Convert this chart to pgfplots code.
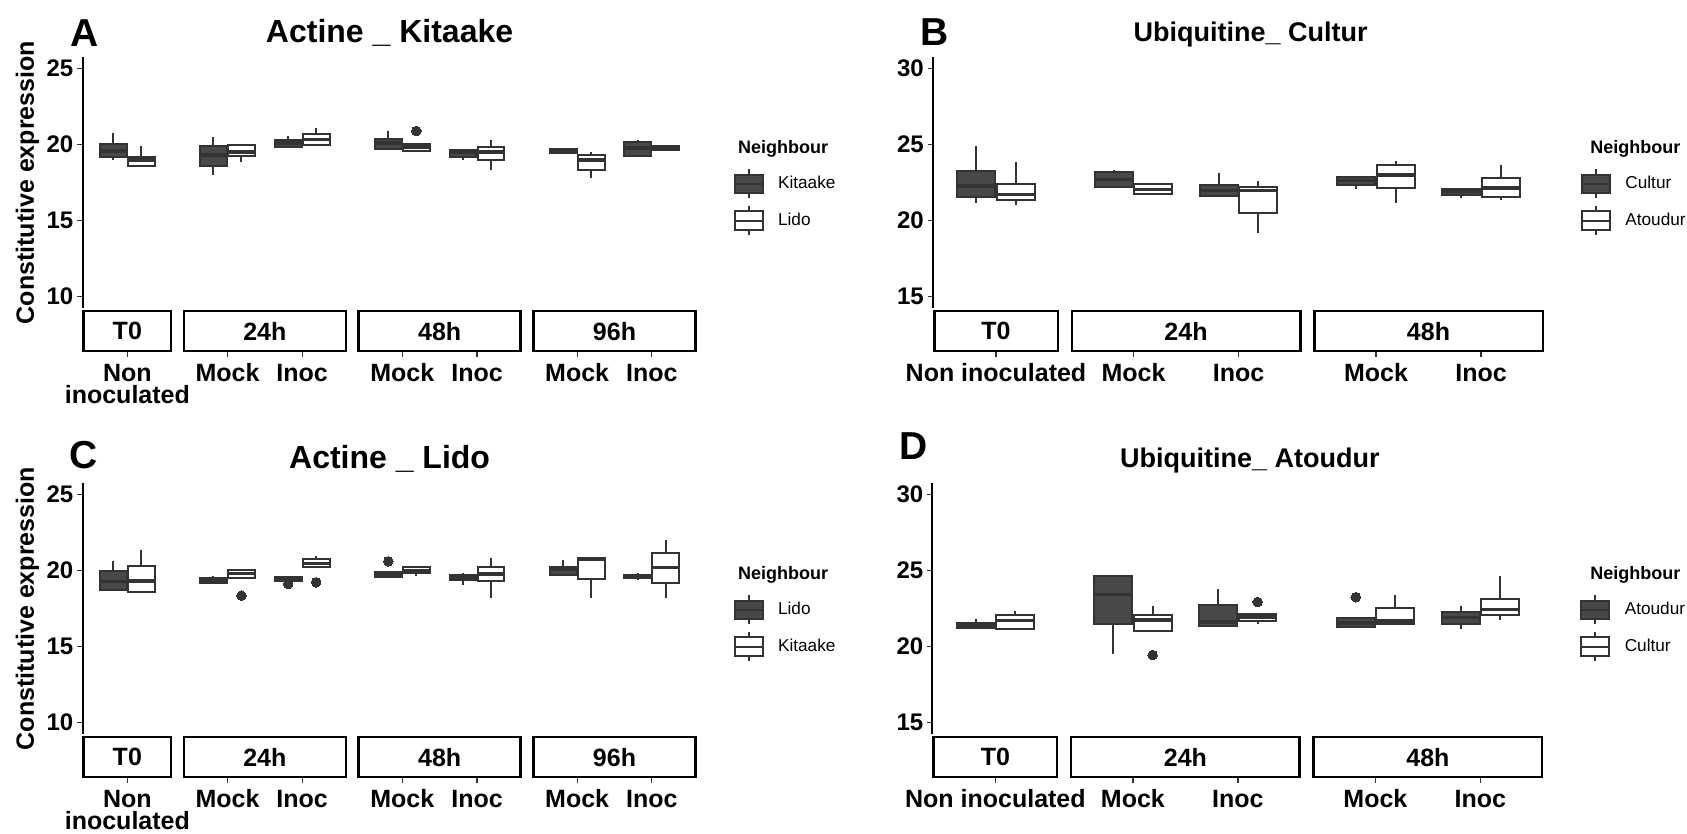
\documentclass[border=0pt]{standalone}
\usepackage{fontspec}
\setmainfont{Liberation Sans}
\usepackage{pgfplots}
\pgfplotsset{compat=1.18}
\usepgfplotslibrary{statistics}
\definecolor{cdark}{HTML}{484848}
\definecolor{cgrey}{HTML}{333333}

\newcommand{\tickfont}{\bfseries\fontsize{12}{11.25}\selectfont}
\newcommand{\xtickfont}{\bfseries\fontsize{12.5}{11.25}\selectfont}
\newcommand{\stripfont}{\bfseries\fontsize{12.5}{14}\selectfont}
\newcommand{\legfont}{\fontsize{8.6}{10}\selectfont}

% box: style, position, lower whisker, Q1, median, Q3, upper whisker
\newcommand{\bx}[7]{\addplot[#1, boxplot prepared={draw position=#2, lower whisker=#3, lower quartile=#4, median=#5, upper quartile=#6, upper whisker=#7}] coordinates {};}
% same with one outlier
\newcommand{\bxo}[8]{\addplot[#1, boxplot prepared={draw position=#2, lower whisker=#3, lower quartile=#4, median=#5, upper quartile=#6, upper whisker=#7}] table[row sep=\\, y index=0] {y\\ #8\\};}
% strip: xmin, xmax, centre, ymin, label
\newcommand{\strip}[5]{%
  \draw[line width=1.25pt] ([xshift=0.62pt,yshift=-1.6pt]axis cs:#1,#4) rectangle ([xshift=-0.62pt,yshift=-21.4pt]axis cs:#2,#4);
  \node[font=\stripfont, anchor=center] at ([yshift=-11.6pt]axis cs:#3,#4) {#5};}
\newcommand{\keyimg}[1]{%
  \draw[draw=cgrey, line width=1pt] (7pt,4.6pt) -- (7pt,7.2pt) (7pt,-4.6pt) -- (7pt,-7.2pt);
  \draw[draw=cgrey, fill=#1, line width=1pt] (0pt,-4.6pt) rectangle (14pt,4.6pt);
  \draw[draw=cgrey, line width=1pt] (0pt,0pt) -- (14pt,0pt);}

\pgfplotsset{
  boxcommon/.style={draw=cgrey, line width=1pt, mark=*, mark size=2.4pt,
    mark options={draw=cgrey, fill=cgrey, line width=0pt, solid},
    boxplot/draw direction=y,
    boxplot/box extend=0.36, boxplot/whisker extend=0,
    boxplot/every median/.style={line width=1.8pt, draw=cgrey}},
  dk/.style={boxcommon, fill=cdark},
  wt/.style={boxcommon, fill=white},
  panel/.style={
    scale only axis, clip=false,
    axis x line*=bottom, axis y line*=left,
    axis x line shift=22pt,
    x axis line style={draw=none},
    y axis line style={line width=1pt, black},
    tick align=outside, major tick length=2.7pt,
    xtick style={draw=cgrey, line width=0.6pt},
    ytick style={draw=cgrey, line width=0.6pt},
    ticklabel style={font=\tickfont, text=black},
    xticklabel style={align=center, inner sep=0pt, yshift=-3pt, font=\xtickfont},
    yticklabel style={inner sep=0pt, xshift=-1.7pt},
    /pgf/number format/assume math mode=true,
    every axis title/.style={anchor=base, at={(0.5,1)}, yshift=7.35pt, font=\bfseries\fontsize{16}{18}\selectfont},
    legend style={draw=none, fill=none, at={(1,1)}, anchor=north west, xshift=18.3pt, yshift=-55.4pt,
      font=\legfont, row sep=3pt, inner sep=0pt, nodes={inner sep=0pt},
      /tikz/every odd column/.append style={column sep=7.2pt}},
    legend cell align=left,
  },
  panelA/.style={panel, width=307.1pt, height=125.4pt, xmin=0, xmax=8.22, ymin=9.25, ymax=25.75,
    ytick={10,15,20,25},
    xtick={0.6,1.94,2.94,4.28,5.28,6.62,7.62},
    xticklabels={{Non\\inoculated},Mock,Inoc,Mock,Inoc,Mock,Inoc}},
  panelB/.style={panel, width=305.5pt, height=125.4pt, xmin=0, xmax=5.82, ymin=14.25, ymax=30.75,
    ytick={15,20,25,30},
    xtick={0.6,1.91,2.91,4.22,5.22},
    xticklabels={Non inoculated,Mock,Inoc,Mock,Inoc},
    every axis title/.append style={yshift=0.55pt, xshift=6pt, font=\bfseries\fontsize{13.5}{16}\selectfont}},
}

\begin{document}
\begin{tikzpicture}
\path[use as bounding box] (0,0) rectangle (843.5pt,-417pt);

% ---------------- A ----------------
\begin{axis}[panelA, at={(41.25pt,-154pt)}, anchor=south west, title={Actine \_ Kitaake}]
\addlegendimage{legend image code/.code={\keyimg{cdark}}}\addlegendentry{Kitaake}
\addlegendimage{legend image code/.code={\keyimg{white}}}\addlegendentry{Lido}
\bx{dk}{0.4125}{19.0}{19.19}{19.56}{20.05}{20.75}
\bx{wt}{0.7875}{18.5}{18.6}{18.97}{19.19}{19.92}
\bx{dk}{1.7525}{18.03}{18.62}{19.3}{19.9}{20.48}
\bx{wt}{2.1275}{18.87}{19.27}{19.52}{19.97}{20.0}
\bx{dk}{2.7525}{19.8}{19.85}{20.09}{20.28}{20.55}
\bx{wt}{3.1275}{20.0}{20.0}{20.33}{20.72}{21.1}
\bx{dk}{4.0925}{19.72}{19.72}{20.1}{20.37}{20.92}
\bxo{wt}{4.4675}{19.52}{19.6}{19.85}{20.07}{20.07}{20.9}
\bx{dk}{5.0925}{18.99}{19.19}{19.5}{19.67}{19.74}
\bx{wt}{5.4675}{18.31}{18.97}{19.5}{19.85}{20.33}
\bx{dk}{6.4325}{19.45}{19.47}{19.6}{19.74}{19.76}
\bx{wt}{6.8075}{17.81}{18.34}{18.97}{19.3}{19.54}
\bx{dk}{7.4325}{19.21}{19.23}{19.76}{20.15}{20.33}
\bx{wt}{7.8075}{19.58}{19.67}{19.82}{19.93}{19.98}
\strip{0}{1.2}{0.6}{9.25}{T0}
\strip{1.34}{3.54}{2.44}{9.25}{24h}
\strip{3.68}{5.88}{4.78}{9.25}{48h}
\strip{6.02}{8.22}{7.12}{9.25}{96h}
\end{axis}

% ---------------- B ----------------
\begin{axis}[panelB, at={(466.5pt,-154pt)}, anchor=south west, title={Ubiquitine\_ Cultur}]
\addlegendimage{legend image code/.code={\keyimg{cdark}}}\addlegendentry{Cultur}
\addlegendimage{legend image code/.code={\keyimg{white}}}\addlegendentry{Atoudur}
\bx{dk}{0.4125}{21.15}{21.52}{22.26}{23.29}{24.89}
\bx{wt}{0.7875}{21.0}{21.35}{21.72}{22.42}{23.86}
\bx{dk}{1.7225}{22.22}{22.22}{22.7}{23.2}{23.36}
\bx{wt}{2.0975}{21.72}{21.72}{22.05}{22.42}{22.42}
\bx{dk}{2.7225}{21.63}{21.63}{21.98}{22.31}{23.1}
\bx{wt}{3.0975}{19.16}{20.49}{21.98}{22.22}{22.59}
\bx{dk}{4.0325}{22.05}{22.37}{22.64}{22.88}{22.88}
\bx{wt}{4.4075}{21.13}{22.16}{22.99}{23.69}{23.91}
\bx{dk}{5.0325}{21.5}{21.7}{21.94}{22.07}{22.07}
\bx{wt}{5.4075}{21.35}{21.56}{22.16}{22.81}{23.64}
\strip{0}{1.2}{0.6}{14.25}{T0}
\strip{1.31}{3.51}{2.41}{14.25}{24h}
\strip{3.62}{5.82}{4.72}{14.25}{48h}
\end{axis}

% ---------------- C ----------------
\begin{axis}[panelA, at={(41.25pt,-367pt)}, anchor=south west, title={Actine \_ Lido}]
\addlegendimage{legend image code/.code={\keyimg{cdark}}}\addlegendentry{Lido}
\addlegendimage{legend image code/.code={\keyimg{white}}}\addlegendentry{Kitaake}
\bx{dk}{0.4125}{18.65}{18.74}{19.29}{19.97}{20.66}
\bx{wt}{0.7875}{18.6}{18.61}{19.32}{20.31}{21.36}
\bx{dk}{1.7525}{19.17}{19.17}{19.34}{19.5}{19.63}
\bxo{wt}{2.1275}{19.5}{19.5}{19.82}{20.07}{20.07}{18.36}
\bxo{dk}{2.7525}{19.34}{19.34}{19.47}{19.58}{19.58}{19.12}
\bxo{wt}{3.1275}{20.24}{20.24}{20.48}{20.77}{20.98}{19.23}
\bxo{dk}{4.0925}{19.56}{19.56}{19.72}{19.91}{19.91}{20.61}
\bx{wt}{4.4675}{19.67}{19.82}{20.02}{20.22}{20.28}
\bx{dk}{5.0925}{19.06}{19.39}{19.56}{19.72}{19.85}
\bx{wt}{5.4675}{18.18}{19.3}{19.76}{20.22}{20.81}
\bx{dk}{6.4325}{19.67}{19.74}{20.09}{20.22}{20.68}
\bx{wt}{6.8075}{18.18}{19.45}{20.77}{20.85}{20.85}
\bx{dk}{7.4325}{19.37}{19.5}{19.58}{19.72}{19.85}
\bx{wt}{7.8075}{18.18}{19.19}{20.2}{21.14}{22.03}
\strip{0}{1.2}{0.6}{9.25}{T0}
\strip{1.34}{3.54}{2.44}{9.25}{24h}
\strip{3.68}{5.88}{4.78}{9.25}{48h}
\strip{6.02}{8.22}{7.12}{9.25}{96h}
\end{axis}

% ---------------- D ----------------
\begin{axis}[panelB, at={(466.2pt,-367pt)}, anchor=south west, title={Ubiquitine\_ Atoudur}]
\addlegendimage{legend image code/.code={\keyimg{cdark}}}\addlegendentry{Atoudur}
\addlegendimage{legend image code/.code={\keyimg{white}}}\addlegendentry{Cultur}
\bx{dk}{0.4125}{21.24}{21.24}{21.43}{21.56}{21.83}
\bx{wt}{0.7875}{21.06}{21.19}{21.72}{22.11}{22.37}
\bx{dk}{1.7225}{19.49}{21.48}{23.42}{24.67}{24.67}
\bxo{wt}{2.0975}{21.02}{21.02}{21.74}{22.11}{22.64}{19.44}
\bx{dk}{2.7225}{21.3}{21.37}{21.63}{22.72}{23.8}
\bxo{wt}{3.0975}{21.48}{21.67}{21.96}{22.13}{22.13}{22.94}
\bxo{dk}{4.0325}{21.32}{21.32}{21.56}{21.91}{21.91}{23.25}
\bx{wt}{4.4075}{21.43}{21.52}{21.7}{22.53}{23.42}
\bx{dk}{5.0325}{21.13}{21.52}{21.91}{22.26}{22.7}
\bx{wt}{5.4075}{21.78}{22.11}{22.44}{23.16}{24.63}
\strip{0}{1.2}{0.6}{14.25}{T0}
\strip{1.31}{3.51}{2.41}{14.25}{24h}
\strip{3.62}{5.82}{4.72}{14.25}{48h}
\end{axis}

% panel tags, axis labels, legend titles
\node[anchor=base, font=\bfseries\fontsize{19.5}{20}\selectfont] at (42.5pt,-23.5pt) {A};
\node[anchor=base, font=\bfseries\fontsize{19.5}{20}\selectfont] at (467.5pt,-23pt) {B};
\node[anchor=base, font=\bfseries\fontsize{19.5}{20}\selectfont] at (42pt,-234pt) {C};
\node[anchor=base, font=\bfseries\fontsize{19.5}{20}\selectfont] at (456.8pt,-229.5pt) {D};
\node[rotate=90, font=\bfseries\fontsize{12.5}{14}\selectfont] at (13.75pt,-91.3pt) {Constitutive expression};
\node[rotate=90, font=\bfseries\fontsize{12.5}{14}\selectfont] at (13.75pt,-304.3pt) {Constitutive expression};
\node[anchor=base west, inner sep=0pt, font=\bfseries\fontsize{9}{10}\selectfont] at (368.85pt,-76.6pt) {Neighbour};
\node[anchor=base west, inner sep=0pt, font=\bfseries\fontsize{9}{10}\selectfont] at (795pt,-76.6pt) {Neighbour};
\node[anchor=base west, inner sep=0pt, font=\bfseries\fontsize{9}{10}\selectfont] at (368.85pt,-289.6pt) {Neighbour};
\node[anchor=base west, inner sep=0pt, font=\bfseries\fontsize{9}{10}\selectfont] at (795pt,-289.6pt) {Neighbour};
\end{tikzpicture}
\end{document}
